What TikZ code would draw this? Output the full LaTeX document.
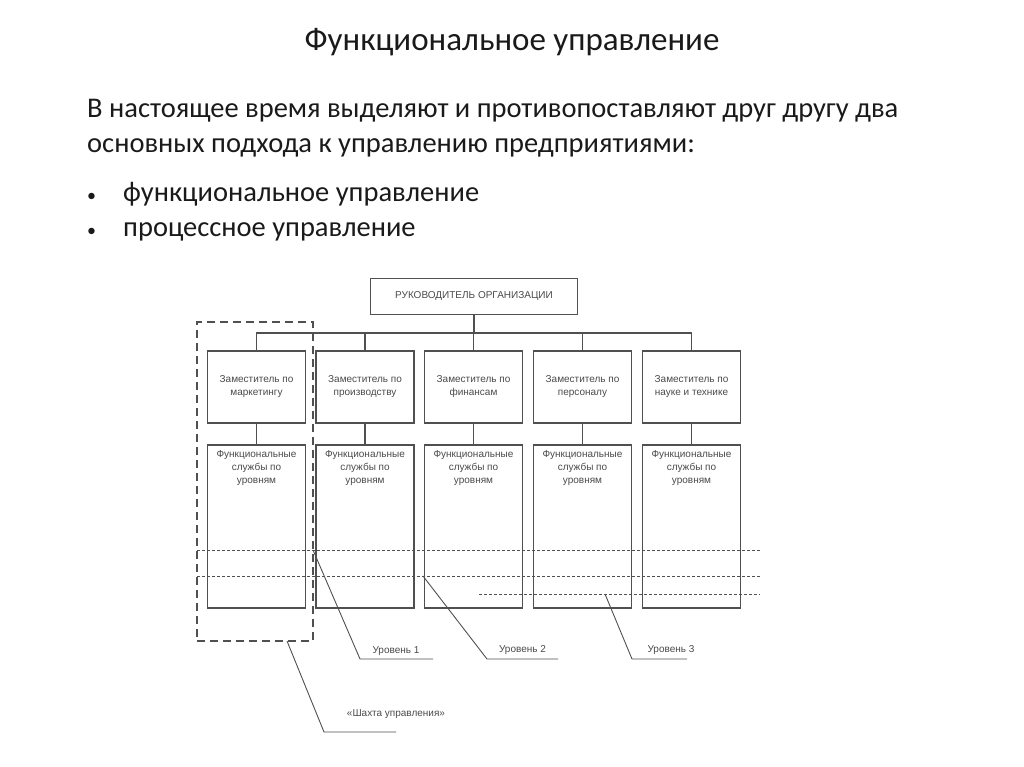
\documentclass[tikz,border=0pt]{standalone}
\usepackage{fontspec}
\setmainfont{Carlito}
\newfontfamily\diafont{Liberation Sans}
\usetikzlibrary{positioning}
\definecolor{ink}{HTML}{1A1A1A}
\definecolor{gline}{HTML}{505050}
\definecolor{gtext}{HTML}{4A4A4A}

\begin{document}
\begin{tikzpicture}[x=1pt,y=-1pt,
  head/.style={text=ink,font=\fontsize{33}{38}\selectfont,inner sep=0pt},
  body/.style={text=ink,font=\fontsize{28.5}{33}\selectfont,inner sep=0pt,anchor=west,
               execute at begin node=\strut},
  boss/.style={draw=gline,line width=1.3pt,minimum width=207pt,minimum height=36pt,
               inner sep=0pt,text=gtext,font=\diafont\fontsize{10}{12}\selectfont},
  deputy/.style={draw=gline,line width=1.3pt,minimum width=98pt,minimum height=72pt,
                 inner sep=0pt,align=center,text=gtext,font=\diafont\fontsize{10}{13}\selectfont},
  service/.style={draw=gline,line width=1.3pt,minimum width=98pt,minimum height=163pt,inner sep=0pt},
  svtext/.style={align=center,inner sep=0pt,text=gtext,font=\diafont\fontsize{10}{13}\selectfont},
  lbl/.style={inner sep=0pt,text=gtext,font=\diafont\fontsize{10}{12}\selectfont},
  wire/.style={draw=gline,line width=1.2pt},
  lvl/.style={draw=gline,line width=1pt,dash pattern=on 3pt off 2pt},
  shaftbox/.style={draw=gline,line width=1.3pt,dash pattern=on 8pt off 5pt,
                   minimum width=116pt,minimum height=319pt,inner sep=0pt},
  lead/.style={draw=gline,line width=0.9pt}]
\useasboundingbox (0,0) rectangle (1024,767);

% heading and text
\node[head] (title) at (512,42) {Функциональное управление};
\node[body] (p1) at (87,111) {В настоящее время выделяют и противопоставляют друг другу два};
\node[body] (p2) at (87,146) {основных подхода к управлению предприятиями:};
\node[body] (b1) at (87,195) {\fontsize{18}{20}\selectfont •};
\node[body] (i1) at (123,195) {функциональное управление};
\node[body] (b2) at (87,230) {\fontsize{18}{20}\selectfont •};
\node[body] (i2) at (123,230) {процессное управление};

% chart
\node[boss] (boss) at (474,296.5) {РУКОВОДИТЕЛЬ ОРГАНИЗАЦИИ};
\coordinate (bus) at (0,333);

\node[deputy] (d1) at (256.5,387) {Заместитель по\\маркетингу};
\node[deputy] (d2) at (365,387) {Заместитель по\\производству};
\node[deputy] (d3) at (473.5,387) {Заместитель по\\финансам};
\node[deputy] (d4) at (582.5,387) {Заместитель по\\персоналу};
\node[deputy] (d5) at (691.5,387) {Заместитель по\\науке и технике};

\node[service] (f1) at (256.5,526.5) {};
\node[service] (f2) at (365,526.5) {};
\node[service] (f3) at (473.5,526.5) {};
\node[service] (f4) at (582.5,526.5) {};
\node[service] (f5) at (691.5,526.5) {};
\node[svtext,below=6pt of f1.north] (t1) {Функциональные\\службы по\\уровням};
\node[svtext,below=6pt of f2.north] (t2) {Функциональные\\службы по\\уровням};
\node[svtext,below=6pt of f3.north] (t3) {Функциональные\\службы по\\уровням};
\node[svtext,below=6pt of f4.north] (t4) {Функциональные\\службы по\\уровням};
\node[svtext,below=6pt of f5.north] (t5) {Функциональные\\службы по\\уровням};

\draw[wire] (boss.south) -- (boss.south |- bus);
\draw[wire] (d1.north) -- (d1.north |- bus) -- (d5.north |- bus) -- (d5.north);
\draw[wire] (d2.north) -- (d2.north |- bus);
\draw[wire] (d3.north) -- (d3.north |- bus);
\draw[wire] (d4.north) -- (d4.north |- bus);
\draw[wire] (d1) -- (f1);
\draw[wire] (d2) -- (f2);
\draw[wire] (d3) -- (f3);
\draw[wire] (d4) -- (f4);
\draw[wire] (d5) -- (f5);

% levels
\coordinate (v1a) at (197,550);
\coordinate (v1b) at (760,550);
\coordinate (v2a) at (197,576);
\coordinate (v2b) at (760,576);
\coordinate (v3a) at (479,594);
\coordinate (v3b) at (760,594);
\draw[lvl] (v1a) -- (v1b);
\draw[lvl] (v2a) -- (v2b);
\draw[lvl] (v3a) -- (v3b);

\node[shaftbox] (shaft) at (255,481.5) {};

% leaders
\coordinate (s1) at (313,550);
\coordinate (k1) at (360,659);
\coordinate (e1) at (433,659);
\coordinate (s2) at (423,576);
\coordinate (k2) at (487,659);
\coordinate (e2) at (558,659);
\coordinate (s3) at (605,594);
\coordinate (k3) at (632,659);
\coordinate (e3) at (687,659);
\coordinate (s4) at (287,641);
\coordinate (k4) at (324,732);
\coordinate (e4) at (396,732);
\draw[lead] (s1) -- (k1) -- (e1);
\draw[lead] (s2) -- (k2) -- (e2);
\draw[lead] (s3) -- (k3) -- (e3);
\draw[lead] (s4) -- (k4) -- (e4);
\node[lbl] (u1) at (396,651) {Уровень 1};
\node[lbl] (u2) at (522.5,650) {Уровень 2};
\node[lbl] (u3) at (671,650) {Уровень 3};
\node[lbl] (u4) at (396,714) {«Шахта управления»};
\end{tikzpicture}
\end{document}
